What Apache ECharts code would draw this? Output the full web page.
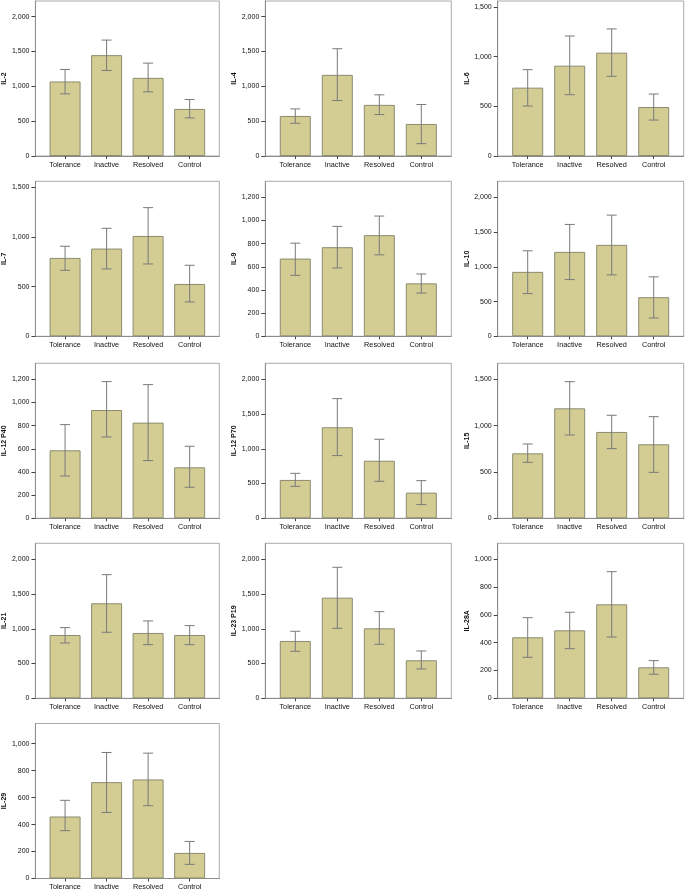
<!DOCTYPE html>
<html>
<head>
<meta charset="utf-8">
<script src="https://cdn.jsdelivr.net/npm/echarts@6/dist/echarts.min.js"></script>
<style>
html,body{margin:0;padding:0;background:#fff}
#main{width:685px;height:894px}
</style>
</head>
<body>
<div id="main"></div>
<script>
// groups on the x axis
var categories = ['Tolerance', 'Inactive', 'Resolved', 'Control'];

// one entry per panel
var names = ['IL-2', 'IL-4', 'IL-6', 'IL-7', 'IL-9', 'IL-10', 'IL-12 P40', 'IL-12 P70', 'IL-15', 'IL-21', 'IL-23 P19', 'IL-28A', 'IL-29'];
var means = [
  [1070, 1448, 1122, 676],
  [575, 1165, 734, 460],
  [688, 909, 1040, 493],
  [789, 883, 1010, 527],
  [671, 769, 873, 457],
  [928, 1216, 1317, 563],
  [587, 935, 826, 440],
  [552, 1310, 828, 369],
  [701, 1187, 932, 799],
  [911, 1367, 940, 911],
  [825, 1448, 1007, 547],
  [439, 489, 676, 223],
  [460, 715, 735, 190]
];
var upper = [
  [1242, 1664, 1333, 811],
  [676, 1540, 878, 739],
  [869, 1208, 1279, 624],
  [906, 1087, 1295, 715],
  [804, 949, 1038, 538],
  [1231, 1611, 1745, 856],
  [809, 1180, 1154, 622],
  [647, 1722, 1137, 542],
  [802, 1475, 1112, 1097],
  [1017, 1779, 1113, 1046],
  [964, 1885, 1247, 681],
  [580, 619, 911, 271],
  [580, 935, 930, 275]
];
var lower = [
  [892, 1228, 921, 547],
  [470, 796, 595, 177],
  [503, 617, 802, 362],
  [664, 678, 728, 346],
  [526, 590, 703, 373],
  [615, 817, 885, 264],
  [365, 702, 498, 268],
  [460, 902, 532, 197],
  [604, 899, 752, 496],
  [796, 950, 772, 772],
  [676, 1007, 777, 422],
  [295, 357, 441, 173],
  [355, 490, 540, 105]
];
var axisMax = [2225, 2225, 1560, 1560, 1338, 2232, 1338, 2230, 1673, 2230, 2230, 1115, 1150];
var tickStep = [500, 500, 500, 500, 200, 500, 200, 500, 500, 500, 500, 200, 200];

var fmt = v => String(v).replace(/\B(?=(\d{3})+(?!\d))/g, ',');

var chart = echarts.init(document.getElementById('main'));

var colLeft = [33.3, 265.3, 497.7], rowTop = [1, 181.3, 363.3, 543.3, 723.5];
var boxW = 186, boxH = 155;
var grids = [], xAxes = [], yAxes = [], series = [];
var catIdx = categories.map((c, k) => k);
var font = 'Liberation Sans, Arial';

names.forEach((nm, i) => {
  var c = i % 3, r = Math.floor(i / 3);
  var ticks = [];
  for (var t = 0; t <= axisMax[i]; t += tickStep[i]) ticks.push(t);

  grids.push({left: colLeft[c], top: rowTop[r], width: boxW, height: boxH,
    show: true, borderColor: '#aaaaaa', borderWidth: 1, backgroundColor: '#fff'});

  xAxes.push({gridIndex: i, type: 'value', min: -0.714, max: 3.714,
    splitLine: {show: false},
    axisLine: {onZero: false, lineStyle: {color: '#8c8c8c', width: 1}},
    axisTick: {customValues: catIdx, length: 3, lineStyle: {color: '#444'}},
    axisLabel: {customValues: catIdx, formatter: v => categories[Math.round(v)],
      fontSize: 7.3, color: '#111', margin: 5, fontFamily: font}});

  yAxes.push({gridIndex: i, type: 'value', min: 0, max: axisMax[i],
    name: nm, nameLocation: 'middle', nameGap: 19,
    nameTextStyle: {fontSize: 7, fontWeight: 'bold', color: '#111', fontFamily: font},
    splitLine: {show: false},
    axisLine: {show: true, onZero: false, lineStyle: {color: '#8c8c8c', width: 1}},
    axisTick: {customValues: ticks, length: 4, lineStyle: {color: '#444'}},
    axisLabel: {customValues: ticks, formatter: fmt, fontSize: 7, color: '#111', margin: 6,
      fontFamily: font}});

  series.push({type: 'bar', xAxisIndex: i, yAxisIndex: i, barWidth: 31,
    data: means[i].map((v, k) => [k, v]),
    itemStyle: {color: '#d3cd93', borderColor: '#8b8b70', borderWidth: 1}});

  series.push({type: 'custom', xAxisIndex: i, yAxisIndex: i, z: 3,
    data: means[i].map((v, k) => [k, upper[i][k], lower[i][k]]),
    encode: {x: 0, y: [1, 2]},
    renderItem: (params, api) => {
      var x = api.value(0);
      var p1 = api.coord([x, api.value(1)]), p2 = api.coord([x, api.value(2)]);
      var hw = 5;
      var st = {stroke: '#7a7a7a', lineWidth: 1, fill: null};
      return {type: 'group', children: [
        {type: 'line', shape: {x1: p1[0], y1: p1[1], x2: p2[0], y2: p2[1]}, style: st},
        {type: 'line', shape: {x1: p1[0] - hw, y1: p1[1], x2: p1[0] + hw, y2: p1[1]}, style: st},
        {type: 'line', shape: {x1: p2[0] - hw, y1: p2[1], x2: p2[0] + hw, y2: p2[1]}, style: st}
      ]};
    }});
});

chart.setOption({animation: false, grid: grids, xAxis: xAxes, yAxis: yAxes, series: series});
</script>
</body>
</html>
